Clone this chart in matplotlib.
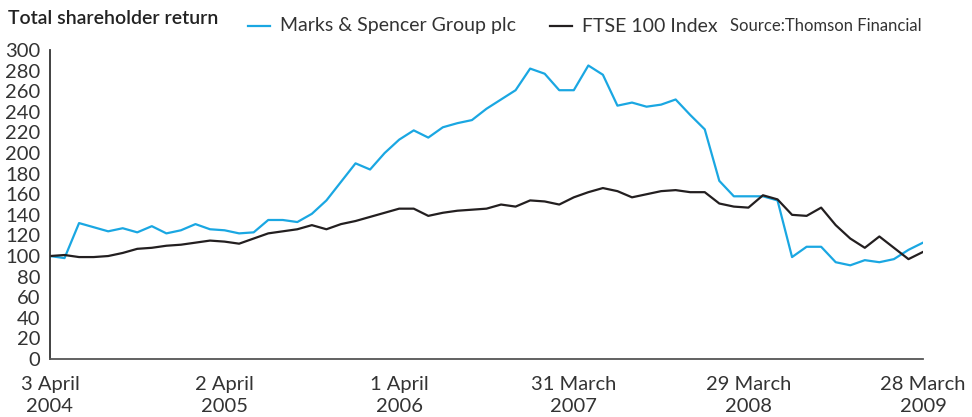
import matplotlib.pyplot as plt
from matplotlib.lines import Line2D

plt.rcParams['font.family'] = ['Lato', 'DejaVu Sans']

# monthly index values, April 2004 = 100
months = list(range(61))
marks_spencer = [
    100, 98, 132, 128, 124, 127, 123, 129, 122, 125,
    131, 126, 125, 122, 123, 135, 135, 133, 141, 154,
    172, 190, 184, 200, 213, 222, 215, 225, 229, 232,
    243, 252, 261, 282, 277, 261, 261, 285, 276, 246,
    249, 245, 247, 252, 237, 223, 173, 158, 158, 158,
    154, 99, 109, 109, 94, 91, 96, 94, 97, 106,
    113,
]
ftse_100 = [
    100, 101, 99, 99, 100, 103, 107, 108, 110, 111,
    113, 115, 114, 112, 117, 122, 124, 126, 130, 126,
    131, 134, 138, 142, 146, 146, 139, 142, 144, 145,
    146, 150, 148, 154, 153, 150, 157, 162, 166, 163,
    157, 160, 163, 164, 162, 162, 151, 148, 147, 159,
    155, 140, 139, 147, 130, 117, 108, 119, 108, 97,
    104,
]
tick_months = [0, 12, 24, 36, 48, 60]
tick_labels = ['3 April\n2004', '2 April\n2005', '1 April\n2006',
               '31 March\n2007', '29 March\n2008', '28 March\n2009']

blue = '#1aa7e2'
dark = '#231f20'
text_col = '#333333'

fig = plt.figure(figsize=(9.72, 4.17), dpi=100)
ax = fig.add_axes([0.0514, 0.139, 0.8982, 0.741])

ax.plot(months, marks_spencer, color=blue, lw=1.6)
ax.plot(months, ftse_100, color=dark, lw=1.6)

ax.set_xlim(0, 60)
ax.set_ylim(0, 300)
ax.set_yticks(range(0, 301, 20))
ax.set_xticks(tick_months)
ax.set_xticklabels(tick_labels, linespacing=1.35)
ax.tick_params(axis='both', length=0, labelsize=14.5, colors=text_col)
ax.tick_params(axis='x', pad=12)
ax.tick_params(axis='y', pad=7)

for side in ['top', 'right']:
    ax.spines[side].set_visible(False)
ax.spines['left'].set_color('#333333')
ax.spines['bottom'].set_color('#555555')
ax.spines['left'].set_linewidth(1.3)
ax.spines['bottom'].set_linewidth(1.3)

fig.text(8 / 972, 1 - 18 / 417, 'Total shareholder return', fontsize=14,
         fontweight='semibold', color='#222222', va='center', ha='left')

# legend row
fig.add_artist(Line2D([248 / 972, 270 / 972], [1 - 26 / 417] * 2, color=blue, lw=1.6))
fig.text(280 / 972, 1 - 26 / 417, 'Marks & Spencer Group plc', fontsize=14,
         color=text_col, va='center', ha='left')
fig.add_artist(Line2D([550 / 972, 572 / 972], [1 - 26 / 417] * 2, color=dark, lw=1.6))
fig.text(582 / 972, 1 - 26 / 417, 'FTSE 100 Index', fontsize=14,
         color=text_col, va='center', ha='left')
fig.text(730 / 972, 1 - 26 / 417, 'Source:Thomson Financial', fontsize=12,
         color=text_col, va='center', ha='left')

fig.savefig('out.png', dpi=100)
